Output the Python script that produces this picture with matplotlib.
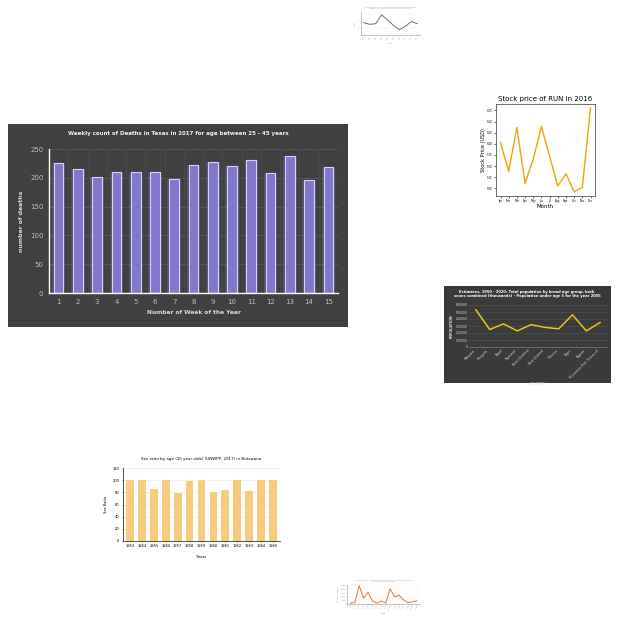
import numpy as np
import matplotlib
matplotlib.use("Agg")
import matplotlib.pyplot as plt
from matplotlib.patches import Rectangle

# --- data ---
weeks = list(range(1, 16))
deaths = [225, 215, 201, 210, 210, 210, 198, 222, 227, 221, 231, 209, 238, 197, 219]

months = ['Jan', 'Feb', 'Mar', 'Apr', 'May', 'Jun', 'Jul', 'Aug', 'Sep', 'Oct', 'Nov', 'Dec']
run_price = [6.03, 5.38, 6.37, 5.11, 5.65, 6.39, 5.72, 5.05, 5.33, 4.92, 5.02, 6.80]

countries = ['Malaysia', 'Mongolia', 'Nepal', 'Myanmar', 'New Caledonia', 'New Zealand',
             'Morocco', 'Niger', 'Nigeria', 'Micronesia (Fed. States of)']
pop_under5 = [530000, 250000, 330000, 230000, 320000, 280000, 260000, 460000, 230000, 350000]

years = ['1953', '1954', '1955', '1956', '1957', '1958', '1959', '1960', '1961', '1962', '1963', '1964', '1965']
sex_ratio = [100, 100, 86, 100, 79, 99, 100, 80, 84, 100, 82, 100, 100]

top_labels = ['1990', '1992', '1994', '1996', '1998', '2000', '2002', '2004', '2006', '2008']
top_values = [35, 30, 32, 57, 43, 27, 15, 25, 38, 32]

bot_labels = ['Jan 1', 'Jan 2', 'Jan 3', 'Jan 4', 'Jan 5', 'Jan 6', 'Jan 7', 'Jan 8',
              'Jan 9', 'Jan 10', 'Jan 11', 'Jan 12', 'Jan 13', 'Jan 14', 'Jan 15', 'Jan 16']
bot_values = [1200, 1900, 25000, 8000, 15800, 4200, 1200, 4200, 1200, 21000, 9600, 12000,
              5800, 1900, 3000, 4200]

W = 640.0

def box(l, t, r, b):
    # pixel box -> figure fraction
    return [l / W, 1 - b / W, (r - l) / W, (b - t) / W]

fig = plt.figure(figsize=(6.4, 6.4), dpi=100)
fig.patch.set_facecolor('white')

# ---------------- weekly deaths (dark panel) ----------------
fig.patches.append(Rectangle((8 / W, 1 - 327 / W), 340 / W, 203 / W, transform=fig.transFigure,
                             facecolor='#404040', edgecolor='none', zorder=-10))
ax = fig.add_axes(box(49, 149, 338, 293))
ax.set_facecolor('none')
ax.bar(weeks, deaths, width=0.7, color='#8f86e0', alpha=0.25, edgecolor='none')
ax.bar(weeks, deaths, width=0.5, color='#8178cc', edgecolor='#d8d2ff', linewidth=0.8)
ax.set_xlim(0.5, 15.5)
ax.set_ylim(0, 250)
ax.set_yticks(range(0, 251, 50))
ax.set_xticks(weeks)
for y in range(50, 251, 50):
    ax.axhline(y, color='#595959', lw=0.6, zorder=0)
for x in np.arange(1.5, 15.5, 1):
    ax.axvline(x, color='#4c4c4c', lw=0.5, zorder=0)
for s in ['top', 'right']:
    ax.spines[s].set_visible(False)
ax.spines['left'].set_color('white')
ax.spines['bottom'].set_color('white')
ax.spines['left'].set_linewidth(1.0)
ax.spines['bottom'].set_linewidth(1.0)
ax.tick_params(colors='#bfbfbf', labelsize=5, length=0, pad=4)
ax.set_xlabel('Number of Week of the Year', color='#d9d9d9', fontsize=4.2, fontweight='bold', labelpad=4)
ax.set_ylabel('number of deaths', color='#d9d9d9', fontsize=4.4, fontweight='bold', labelpad=4)
fig.text(178 / W, 1 - 134 / W, 'Weekly count of Deaths in Texas in 2017 for age between 25 - 45 years',
         color='#f2f2f2', fontsize=4.0, fontweight='bold', ha='center', va='center')

# ---------------- stock price ----------------
ax = fig.add_axes(box(496, 104, 595, 196))
ax.plot(months, run_price, color='#f0a500', lw=1.0)
ax.set_yticks(np.arange(5.0, 6.76, 0.25))
ax.tick_params(labelsize=2.0, length=1.2, width=0.4, pad=1)
for s in ax.spines.values():
    s.set_linewidth(0.5)
    s.set_color('#333333')
ax.set_title('Stock price of RUN in 2016', fontsize=5, pad=2)
ax.set_xlabel('Month', fontsize=4, labelpad=0.5)
ax.set_ylabel('Stock Price (USD)', fontsize=3.6, labelpad=1)

# ---------------- population under 5 (dark panel) ----------------
fig.patches.append(Rectangle((444 / W, 1 - 383 / W), 167 / W, 97 / W, transform=fig.transFigure,
                             facecolor='#3a3a3a', edgecolor='none', zorder=-10))
ax = fig.add_axes(box(469, 305, 607, 347))
ax.set_facecolor('none')
ax.plot(range(len(countries)), pop_under5, color='#e8c619', lw=1.1)
ax.set_ylim(0, 600000)
ax.set_xlim(-0.5, len(countries) - 0.5)
ax.set_yticks(range(0, 600001, 100000))
ax.set_xticks(range(len(countries)))
ax.set_xticklabels(countries, rotation=45, ha='right')
for y in range(100000, 600001, 100000):
    ax.axhline(y, color='#555555', lw=0.4, zorder=0)
for s in ['top', 'right', 'left']:
    ax.spines[s].set_visible(False)
ax.spines['bottom'].set_color('#7f7f7f')
ax.spines['bottom'].set_linewidth(0.5)
ax.tick_params(colors='#d9d9d9', labelsize=2.2, length=0, pad=1)
ax.set_xlabel('COUNTRY', color='#d9d9d9', fontsize=2.4, labelpad=2)
ax.set_ylabel('POPULATION', color='#d9d9d9', fontsize=2.4, fontweight='bold', labelpad=1)
fig.text(527 / W, 1 - 294 / W,
         'Estimates, 1950 - 2020: Total population by broad age group, both\n'
         'sexes combined (thousands) - Population under age 5 for the year 2005',
         color='white', fontsize=2.6, fontweight='bold', ha='center', va='center', linespacing=1.3)

# ---------------- sex ratio ----------------
ax = fig.add_axes(box(123, 468, 280, 541))
ax.bar(years, sex_ratio, width=0.65, color='#f8cc7c', edgecolor='none', zorder=2)
ax.set_ylim(0, 120)
ax.set_yticks(range(0, 121, 20))
ax.set_xlim(-0.6, len(years) - 0.4)
ax.grid(axis='y', color='#e6e6e6', lw=0.4, zorder=0)
for s in ['top', 'right']:
    ax.spines[s].set_visible(False)
for s in ['left', 'bottom']:
    ax.spines[s].set_color('#333333')
    ax.spines[s].set_linewidth(0.6)
ax.tick_params(labelsize=2.6, length=1, width=0.4, pad=1.5)
ax.set_xlabel('Years', fontsize=2.8, labelpad=5)
ax.set_ylabel('Sex Ratio', fontsize=2.6, labelpad=3)
ax.set_title('Sex ratio by age (15 year olds) (UNWPP, 2017) in Botswana', fontsize=2.9, pad=6)

# ---------------- tiny top chart ----------------
ax = fig.add_axes(box(361, 12, 420, 35))
ax.plot(top_labels, top_values, color='#707070', lw=0.7)
ax.set_ylim(0, 65)
ax.grid(axis='y', color='#eeeeee', lw=0.3)
for s in ['top', 'right']:
    ax.spines[s].set_visible(False)
for s in ['left', 'bottom']:
    ax.spines[s].set_color('#999999')
    ax.spines[s].set_linewidth(0.4)
ax.tick_params(labelsize=1.2, length=0.6, width=0.3, pad=0.5, colors='#999999')
ax.tick_params(axis='x', rotation=45)
ax.set_xlabel('Year', fontsize=1.5, color='#999999', labelpad=2)
ax.set_ylabel('Value', fontsize=1.4, color='#999999', labelpad=1)
ax.set_title('Annual values of the indicator for the selected period\nobserved across all available years of data',
             fontsize=1.4, color='#999999', pad=2)

# ---------------- tiny bottom chart ----------------
ax = fig.add_axes(box(347, 585, 420, 604))
ax.plot(bot_labels, bot_values, color='#d9803a', lw=0.7)
ax.set_ylim(0, 26000)
ax.set_yticks(range(0, 25001, 5000))
ax.grid(axis='y', color='#eeeeee', lw=0.3)
for s in ['top', 'right']:
    ax.spines[s].set_visible(False)
for s in ['left', 'bottom']:
    ax.spines[s].set_color('#999999')
    ax.spines[s].set_linewidth(0.4)
ax.tick_params(labelsize=1.2, length=0.6, width=0.3, pad=0.5, colors='#888888')
ax.tick_params(axis='x', rotation=60)
ax.set_xlabel('Date', fontsize=1.5, color='#888888', labelpad=2)
ax.set_ylabel('Number of cases', fontsize=1.3, color='#888888', labelpad=1)
ax.set_title('Daily number of new reported cases in the selected country\nduring January to 1993',
             fontsize=1.4, color='#999999', pad=2)

fig.savefig('out.png', dpi=100, facecolor='white')
